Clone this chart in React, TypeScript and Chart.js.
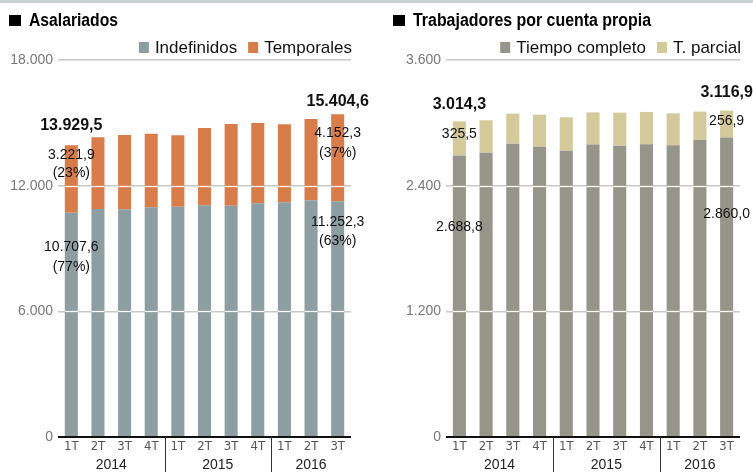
import { useEffect, useRef } from "react";
import { Chart, registerables } from "chart.js";

Chart.register(...registerables);

// ---------- DATA ----------
const quarters = ["1T", "2T", "3T", "4T", "1T", "2T", "3T", "4T", "1T", "2T", "3T"];
const years = ["2014", "2015", "2016"];
const yearStart = [0, 4, 8];
const yearEnd = [3, 7, 10];

const indefinidos = [10707.6, 10886, 10871, 10966, 10998, 11061, 11045, 11157, 11205, 11300, 11252.3];
const temporales = [3221.9, 3424, 3548, 3517, 3405, 3692, 3900, 3836, 3724, 3883, 4152.3];

const tiempoCompleto = [2688.8, 2715, 2801, 2772, 2734, 2792, 2782, 2795, 2785, 2836, 2860.0];
const tParcial = [325.5, 309, 287, 306, 319, 308, 315, 309, 306, 271, 256.9];

const leftTicks = [0, 6000, 12000, 18000];
const rightTicks = [0, 1200, 2400, 3600];

const leftPercents = ["(23%)", "(77%)", "(37%)", "(63%)"];

// ---------- HELPERS ----------
const SANS = "'Liberation Sans', Arial, Helvetica, sans-serif";
const COND = "'DejaVu Sans Condensed', 'Liberation Sans', sans-serif";

function fmt(v: number, d: number) {
  const s = v.toFixed(d);
  const [ip, dp] = s.split(".");
  const withDots = ip.replace(/\B(?=(\d{3})+(?!\d))/g, ".");
  return dp ? withDots + "," + dp : withDots;
}

type Lbl = { i: number; ref: "total" | "top" | "base"; dy: number; text: string; bold?: boolean };

type Cfg = {
  title: string;
  titleX: number;
  titleW: number;
  names: string[];
  colors: string[];
  ticks: number[];
  labels: Lbl[];
};

function makePlugin(cfg: Cfg) {
  return {
    id: "custom-" + cfg.title,
    afterDatasetsDraw(chart: any) {
      const ctx = chart.ctx as CanvasRenderingContext2D;
      const { left, right } = chart.chartArea;
      const ys = chart.scales.y;
      ctx.save();
      // white gridlines across bars
      ctx.strokeStyle = "rgba(255,255,255,0.95)";
      ctx.lineWidth = 1.3;
      cfg.ticks
        .filter((v) => v > 0)
        .forEach((v) => {
          const py = Math.round(ys.getPixelForValue(v)) + 0.5;
          chart.data.datasets.forEach((_: any, di: number) => {
            chart.getDatasetMeta(di).data.forEach((bar: any) => {
              const p = bar.getProps(["x", "width", "y", "base"], true);
              if (py > Math.min(p.y, p.base) && py < Math.max(p.y, p.base)) {
                ctx.beginPath();
                ctx.moveTo(p.x - p.width / 2, py);
                ctx.lineTo(p.x + p.width / 2, py);
                ctx.stroke();
              }
            });
          });
        });
      // zero line
      const y0 = ys.getPixelForValue(0);
      ctx.strokeStyle = "#111";
      ctx.lineWidth = 2;
      ctx.beginPath();
      ctx.moveTo(left, y0);
      ctx.lineTo(right, y0);
      ctx.stroke();

      // value labels
      ctx.textAlign = "center";
      ctx.textBaseline = "middle";
      ctx.fillStyle = "#111";
      const m0 = chart.getDatasetMeta(0);
      const m1 = chart.getDatasetMeta(1);
      cfg.labels.forEach((l) => {
        const b0 = m0.data[l.i].getProps(["x", "y"], true);
        const b1 = m1.data[l.i].getProps(["x", "y"], true);
        const refY = l.ref === "base" ? b0.y : b1.y;
        ctx.font = l.bold ? `bold 16px ${SANS}` : `14px ${SANS}`;
        ctx.fillText(l.text, b0.x, refY + l.dy);
      });
      ctx.restore();
    },
    afterDraw(chart: any) {
      const ctx = chart.ctx as CanvasRenderingContext2D;
      const { right, bottom } = chart.chartArea;
      const xs = chart.scales.x;
      ctx.save();
      // title
      ctx.fillStyle = "#000";
      ctx.fillRect(cfg.titleX, 15, 12, 11);
      ctx.font = `bold 18px ${SANS}`;
      ctx.textAlign = "left";
      ctx.textBaseline = "alphabetic";
      const tw = ctx.measureText(cfg.title).width;
      ctx.save();
      ctx.translate(cfg.titleX + 20, 26);
      ctx.scale(cfg.titleW / tw, 1);
      ctx.fillText(cfg.title, 0, 0);
      ctx.restore();

      // legend (right aligned)
      ctx.font = `17px ${SANS}`;
      const w2 = ctx.measureText(cfg.names[1]).width;
      const w1 = ctx.measureText(cfg.names[0]).width;
      const t2x = right + 1 - w2;
      const s2x = t2x - 16;
      const t1x = s2x - 11 - w1;
      const s1x = t1x - 16;
      ctx.fillStyle = cfg.colors[0];
      ctx.fillRect(s1x, 42, 10, 11);
      ctx.fillStyle = cfg.colors[1];
      ctx.fillRect(s2x, 42, 10, 11);
      ctx.fillStyle = "#111";
      ctx.fillText(cfg.names[0], t1x, 53);
      ctx.fillText(cfg.names[1], t2x, 53);

      // year separators and labels
      ctx.strokeStyle = "#333";
      ctx.lineWidth = 1;
      for (let k = 1; k < yearStart.length; k++) {
        const sx = Math.round((xs.getPixelForValue(yearEnd[k - 1]) + xs.getPixelForValue(yearStart[k])) / 2) + 0.5;
        ctx.beginPath();
        ctx.moveTo(sx, bottom);
        ctx.lineTo(sx, 472);
        ctx.stroke();
      }
      ctx.fillStyle = "#222";
      ctx.font = `14px ${SANS}`;
      ctx.textAlign = "center";
      ctx.textBaseline = "middle";
      years.forEach((yr, k) => {
        const cx = (xs.getPixelForValue(yearStart[k]) + xs.getPixelForValue(yearEnd[k])) / 2;
        ctx.fillText(yr, cx, 465);
      });
      ctx.restore();
    },
  };
}

function buildConfig(
  a: number[],
  b: number[],
  cfg: Cfg,
  max: number,
  yWidth: number,
  padRight: number
): any {
  return {
    type: "bar",
    data: {
      labels: quarters,
      datasets: [
        { label: cfg.names[0], data: a, backgroundColor: cfg.colors[0], barPercentage: 0.49, categoryPercentage: 1 },
        { label: cfg.names[1], data: b, backgroundColor: cfg.colors[1], barPercentage: 0.49, categoryPercentage: 1 },
      ],
    },
    options: {
      animation: false,
      responsive: false,
      layout: { padding: { left: 0, right: padRight, top: 60, bottom: 0 } },
      plugins: { legend: { display: false }, tooltip: { enabled: false }, title: { display: false } },
      scales: {
        x: {
          stacked: true,
          grid: { display: false, drawTicks: false },
          border: { display: false },
          ticks: { color: "#555", font: { family: COND, size: 13 }, padding: 2, maxRotation: 0, autoSkip: false },
          afterFit: (s: any) => {
            s.height = 35;
          },
        },
        y: {
          stacked: true,
          min: 0,
          max,
          afterBuildTicks: (s: any) => {
            s.ticks = cfg.ticks.map((v) => ({ value: v }));
          },
          ticks: { color: "#777", font: { family: SANS, size: 14 }, padding: 5, callback: (v: any) => fmt(Number(v), 0) },
          grid: { color: "#c8c8c8", lineWidth: 1.5, drawTicks: false },
          border: { display: false },
          afterFit: (s: any) => {
            s.width = yWidth;
          },
        },
      },
    },
    plugins: [makePlugin(cfg)],
  };
}

export default function App() {
  const leftRef = useRef<HTMLCanvasElement>(null);
  const rightRef = useRef<HTMLCanvasElement>(null);

  useEffect(() => {
    const lt0 = indefinidos[0] + temporales[0];
    const lt10 = indefinidos[10] + temporales[10];
    const leftCfg: Cfg = {
      title: "Asalariados",
      titleX: 9,
      titleW: 89,
      names: ["Indefinidos", "Temporales"],
      colors: ["#8d9ea2", "#d87c4a"],
      ticks: leftTicks,
      labels: [
        { i: 0, ref: "total", dy: -20, text: fmt(lt0, 1), bold: true },
        { i: 0, ref: "top", dy: 10, text: fmt(temporales[0], 1) },
        { i: 0, ref: "top", dy: 28, text: leftPercents[0] },
        { i: 0, ref: "base", dy: 34, text: fmt(indefinidos[0], 1) },
        { i: 0, ref: "base", dy: 54, text: leftPercents[1] },
        { i: 10, ref: "total", dy: -13, text: fmt(lt10, 1), bold: true },
        { i: 10, ref: "top", dy: 19, text: fmt(temporales[10], 1) },
        { i: 10, ref: "top", dy: 39, text: leftPercents[2] },
        { i: 10, ref: "base", dy: 21, text: fmt(indefinidos[10], 1) },
        { i: 10, ref: "base", dy: 40, text: leftPercents[3] },
      ],
    };
    const rt0 = tiempoCompleto[0] + tParcial[0];
    const rt10 = tiempoCompleto[10] + tParcial[10];
    const rightCfg: Cfg = {
      title: "Trabajadores por cuenta propia",
      titleX: 16,
      titleW: 238,
      names: ["Tiempo completo", "T. parcial"],
      colors: ["#96958a", "#d4c99a"],
      ticks: rightTicks,
      labels: [
        { i: 0, ref: "total", dy: -17, text: fmt(rt0, 1), bold: true },
        { i: 0, ref: "top", dy: 13, text: fmt(tParcial[0], 1) },
        { i: 0, ref: "base", dy: 72, text: fmt(tiempoCompleto[0], 1) },
        { i: 10, ref: "total", dy: -18, text: fmt(rt10, 1), bold: true },
        { i: 10, ref: "top", dy: 11, text: fmt(tParcial[10], 1) },
        { i: 10, ref: "base", dy: 77, text: fmt(tiempoCompleto[10], 1) },
      ],
    };
    const c1 = new Chart(leftRef.current!, buildConfig(indefinidos, temporales, leftCfg, 18000, 58, 25));
    const c2 = new Chart(rightRef.current!, buildConfig(tiempoCompleto, tParcial, rightCfg, 3600, 69, 13));
    return () => {
      c1.destroy();
      c2.destroy();
    };
  }, []);

  return (
    <div style={{ position: "absolute", left: 0, top: 0, width: 753, height: 472, background: "#fff", overflow: "hidden" }}>
      <div style={{ position: "absolute", left: 0, top: 0, width: 753, height: 3, background: "#c9d1d4" }} />
      <canvas ref={leftRef} width={376} height={472} style={{ position: "absolute", left: 0, top: 0, width: 376, height: 472 }} />
      <canvas ref={rightRef} width={376} height={472} style={{ position: "absolute", left: 377, top: 0, width: 376, height: 472 }} />
    </div>
  );
}
